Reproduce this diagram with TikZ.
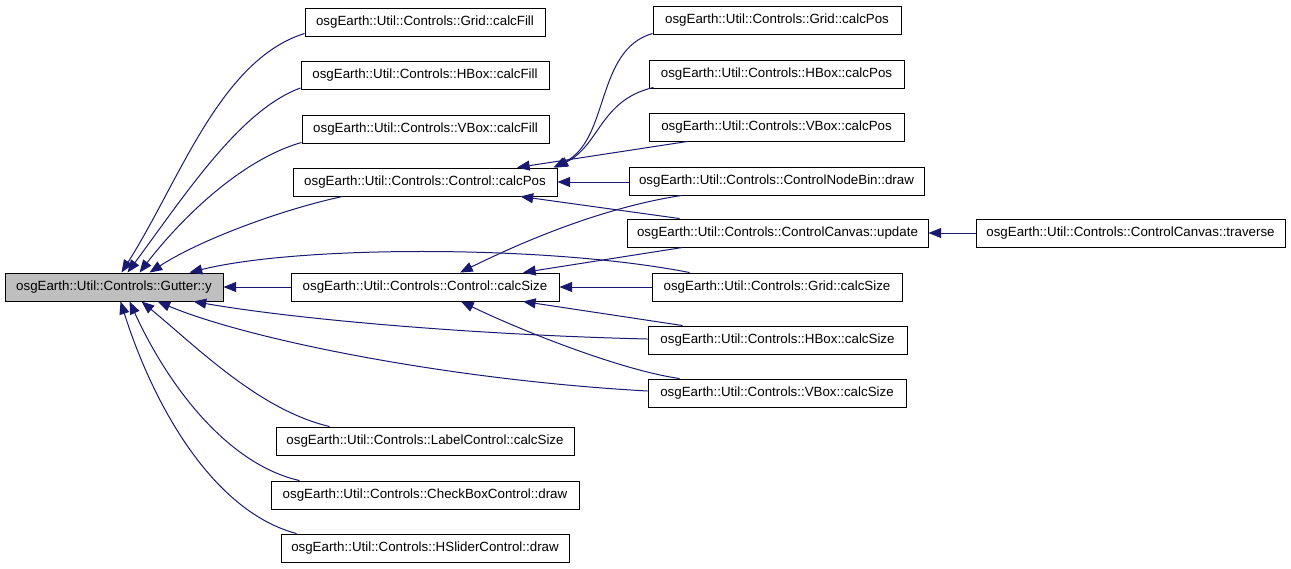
\documentclass[tikz,border=0pt]{standalone}
\usepackage{fontspec}
\setmainfont{Liberation Sans}
\usetikzlibrary{arrows.meta,calc}
\definecolor{edgeblue}{HTML}{191970}
\definecolor{nodegray}{HTML}{BFBFBF}
\begin{document}
\begin{tikzpicture}[x=0.75pt,y=-0.75pt,
  fn/.style={draw=black, line width=0.7pt, minimum height=21pt, inner sep=0pt,
    font=\fontsize{10}{12}\selectfont, minimum width=#1*0.75pt},
  callarrow/.style={draw=edgeblue, line width=0.75pt,
    {Triangle[length=9.5pt,width=7.5pt,fill=edgeblue]}-}]
\useasboundingbox (0,0) rectangle (1291,568);
% nodes
\node[fn=218, fill=nodegray] (gy) at (114,287) {osgEarth::Util::Controls::Gutter::y};
\node[fn=240] (gcf) at (425,22) {osgEarth::Util::Controls::Grid::calcFill};
\node[fn=248] (hcf) at (425,75.5) {osgEarth::Util::Controls::HBox::calcFill};
\node[fn=247] (vcf) at (425.5,129) {osgEarth::Util::Controls::VBox::calcFill};
\node[fn=264] (cpos) at (425,182) {osgEarth::Util::Controls::Control::calcPos};
\node[fn=268] (csize) at (425,287) {osgEarth::Util::Controls::Control::calcSize};
\node[fn=298] (lcs) at (425,441) {osgEarth::Util::Controls::LabelControl::calcSize};
\node[fn=308] (cbd) at (425,495) {osgEarth::Util::Controls::CheckBoxControl::draw};
\node[fn=288] (hsd) at (425,548) {osgEarth::Util::Controls::HSliderControl::draw};
\node[fn=248] (gpos) at (777,20) {osgEarth::Util::Controls::Grid::calcPos};
\node[fn=255] (hpos) at (776.5,74) {osgEarth::Util::Controls::HBox::calcPos};
\node[fn=255] (vpos) at (776.5,127) {osgEarth::Util::Controls::VBox::calcPos};
\node[fn=295] (cnb) at (776.5,181) {osgEarth::Util::Controls::ControlNodeBin::draw};
\node[fn=301] (cup) at (777.5,233) {osgEarth::Util::Controls::ControlCanvas::update};
\node[fn=250] (gcs) at (777,287) {osgEarth::Util::Controls::Grid::calcSize};
\node[fn=259] (hcs) at (777.5,340) {osgEarth::Util::Controls::HBox::calcSize};
\node[fn=258] (vcs) at (777,393) {osgEarth::Util::Controls::VBox::calcSize};
\node[fn=309] (trav) at (1130.5,233) {osgEarth::Util::Controls::ControlCanvas::traverse};
% edges into Gutter::y
\draw[callarrow] ($(gy.north west)+(117,0)$) .. controls (180,180) and (220,60) .. ($(gcf.south west)+(0,-3)$);
\draw[callarrow] ($(gy.north west)+(123,0)$) .. controls (185,195) and (240,110) .. ($(hcf.south west)+(0,-2)$);
\draw[callarrow] ($(gy.north west)+(135,0)$) .. controls (180,220) and (240,160) .. ($(vcf.south west)+(0,-1)$);
\draw[callarrow] ($(gy.north west)+(145,0)$) .. controls (200,240) and (280,210) .. ($(cpos.south west)+(50,0)$);
\draw[callarrow] ($(gy.north west)+(185,0)$) .. controls (300,245) and (550,245) .. ($(gcs.north west)+(38,0)$);
\draw[callarrow] (gy.east) -- (csize.west);
\draw[callarrow] ($(gy.south west)+(189,0)$) .. controls (300,320) and (480,335) .. ($(hcs.west)+(0,-1)$);
\draw[callarrow] ($(gy.south west)+(153,0)$) .. controls (250,340) and (450,380) .. ($(vcs.west)+(0,-2)$);
\draw[callarrow] ($(gy.south west)+(137,0)$) .. controls (200,350) and (260,410) .. ($(lcs.north west)+(54,0)$);
\draw[callarrow] ($(gy.south west)+(125,0)$) .. controls (170,390) and (230,465) .. ($(cbd.north west)+(29,0)$);
\draw[callarrow] ($(gy.south west)+(116,0)$) .. controls (155,410) and (215,512) .. ($(hsd.north west)+(16,0)$);
% edges into Control::calcPos
\draw[callarrow] ($(cpos.north east)+(-4,0)$) .. controls (610,140) and (595,50) .. ($(gpos.south west)+(0,-1)$);
\draw[callarrow] ($(cpos.north east)+(-2,0)$) .. controls (600,145) and (600,100) .. ($(hpos.south west)+(5,-1)$);
\draw[callarrow] ($(cpos.north)+(92,0)$) -- ($(vpos.south west)+(39,0)$);
\draw[callarrow] (cpos.east) -- (cpos.east -| cnb.west);
\draw[callarrow] ($(cpos.south east)+(-37,0)$) -- ($(cup.north west)+(53,0)$);
% edges into Control::calcSize
\draw[callarrow] ($(csize.north)+(35,0)$) .. controls (520,243) and (600,208) .. ($(cnb.south west)+(53,0)$);
\draw[callarrow] ($(csize.north)+(98,0)$) -- ($(cup.south west)+(56,0)$);
\draw[callarrow] (csize.east) -- (gcs.west);
\draw[callarrow] ($(csize.south)+(98,0)$) -- ($(hcs.north west)+(35,0)$);
\draw[callarrow] ($(csize.south)+(36,0)$) .. controls (520,330) and (620,370) .. ($(vcs.north west)+(32,0)$);
% edge into ControlCanvas::update
\draw[callarrow] (cup.east) -- (trav.west);
\end{tikzpicture}
\end{document}
